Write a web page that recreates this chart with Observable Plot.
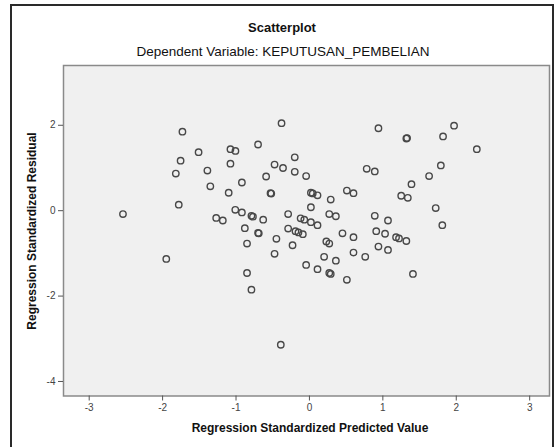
<!DOCTYPE html>
<html>
<head>
<meta charset="utf-8">
<script src="https://cdn.jsdelivr.net/npm/d3@7"></script>
<script src="https://cdn.jsdelivr.net/npm/@observablehq/plot@0.6"></script>
<style>
  html, body { margin: 0; padding: 0; background: #fff; }
  #wrap { position: relative; width: 554px; height: 447px; overflow: hidden; font-family: Arial, "Liberation Sans", sans-serif; }
  #frame { position: absolute; left: 10px; top: 4px; width: 540px; height: 520px; border: 2px solid #2a2a2a; }
  .t { position: absolute; color: #111; white-space: nowrap; }
  #chart { position: absolute; left: 0; top: 0; }
</style>
</head>
<body>
<div id="wrap">
  <div id="frame"></div>
  <div id="chart"></div>
  <div class="t" id="title" style="left:0;width:564px;text-align:center;top:20px;font-size:13px;font-weight:bold;">Scatterplot</div>
  <div class="t" id="sub" style="left:0;width:566px;text-align:center;top:44px;font-size:13.5px;">Dependent Variable: KEPUTUSAN_PEMBELIAN</div>
  <div class="t" id="xl" style="left:50px;width:520px;text-align:center;top:421px;font-size:12px;font-weight:bold;">Regression Standardized Predicted Value</div>
  <div class="t" id="yl" style="left:-228px;width:520px;text-align:center;top:224px;font-size:12px;font-weight:bold;transform:rotate(-90deg);">Regression Standardized Residual</div>
</div>
<script>
const predicted = [
  -1.73, -1.51, -1.076, -1.008, -1.755, -1.39, -1.076, -1.82, -1.35, -1.10,
  -1.78, -2.54, -1.27, -1.18, -0.38, 0.94, -0.70, -0.20, -0.475, -0.36,
  -0.20, -0.045, -0.59, 0.78, 0.89, -0.92, -0.53, -0.52, 0.02, 0.045,
  0.11, 0.51, 0.60, 0.29, 0.02, -1.01, -0.92, -0.79, -0.77, -0.63,
  -0.29, -0.12, -0.07, 0.02, 0.11, 0.27, 0.36, 0.89, 1.07, -0.88,
  -0.70, -0.69, -0.45, -0.29, -0.19, -0.15, -0.09, 0.45, 0.60, 0.91,
  1.03, 0.23, 0.27, -0.85, -0.23, -0.475, 0.94, 1.07, 0.60, 0.76,
  0.20, 0.36, -0.045, 0.11, 0.27, 0.29, 0.51, -0.85, -0.79, -0.39,
  -1.95, 1.32, 1.33, 1.82, 1.97, 2.28, 1.79, 1.63, 1.39, 1.25,
  1.34, 1.72, 1.81, 1.18, 1.22, 1.32, 1.41
];
const residual = [
  1.85, 1.37, 1.44, 1.40, 1.17, 0.94, 1.10, 0.87, 0.57, 0.42,
  0.14, -0.08, -0.17, -0.23, 2.05, 1.93, 1.55, 1.25, 1.08, 1.00,
  0.91, 0.81, 0.80, 0.98, 0.92, 0.66, 0.41, 0.40, 0.42, 0.405,
  0.36, 0.47, 0.41, 0.26, 0.08, 0.02, -0.04, -0.12, -0.14, -0.21,
  -0.08, -0.18, -0.21, -0.27, -0.34, -0.08, -0.13, -0.12, -0.23, -0.41,
  -0.52, -0.53, -0.66, -0.42, -0.48, -0.51, -0.55, -0.53, -0.62, -0.48,
  -0.54, -0.72, -0.77, -0.77, -0.81, -1.01, -0.84, -0.92, -0.98, -1.08,
  -1.08, -1.17, -1.27, -1.37, -1.46, -1.48, -1.62, -1.46, -1.85, -3.14,
  -1.13, 1.69, 1.70, 1.74, 1.99, 1.44, 1.06, 0.81, 0.62, 0.35,
  0.30, 0.06, -0.34, -0.62, -0.65, -0.71, -1.48
];
const xTicks = [-3, -2, -1, 0, 1, 2, 3];
const yTicks = [-4, -2, 0, 2];

const data = predicted.map((x, i) => ({x, y: residual[i]}));
const fmt = d => String(d);

const chart = Plot.plot({
  width: 554,
  height: 447,
  marginLeft: 63,
  marginRight: 5,
  marginTop: 65,
  marginBottom: 51.5,
  style: {fontFamily: 'Arial, "Liberation Sans", sans-serif', fontSize: "10px", background: "transparent", overflow: "visible"},
  x: {domain: [-3.35, 3.27], ticks: xTicks, label: null},
  y: {domain: [-4.34, 3.40], ticks: yTicks, label: null},
  marks: [
    Plot.frame({fill: "#f0f0f0", stroke: "#8a8a8a", strokeWidth: 1.5}),
    Plot.axisX({ticks: xTicks, tickFormat: fmt, tickSize: 5, tickPadding: 3, stroke: "#555", color: "#444", fontSize: 10, label: null}),
    Plot.axisY({ticks: yTicks, tickFormat: fmt, tickSize: 5, tickPadding: 3, stroke: "#555", color: "#444", fontSize: 10, label: null}),
    Plot.dot(data, {x: "x", y: "y", r: 3.2, stroke: "#484848", strokeWidth: 1.4, fill: "none"})
  ]
});
document.getElementById("chart").appendChild(chart);
</script>
</body>
</html>
